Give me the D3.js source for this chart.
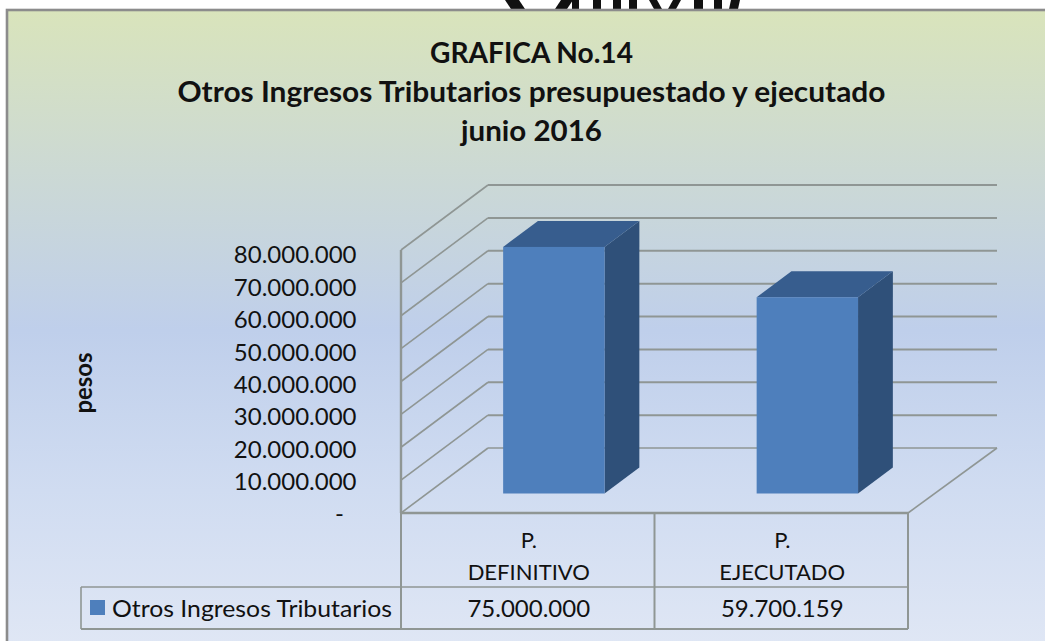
<!DOCTYPE html>
<html><head><meta charset="utf-8">
<script src="https://cdn.jsdelivr.net/npm/d3@7/dist/d3.min.js"></script>
<style>html,body{margin:0;padding:0;background:#fff}svg{display:block}text{font-family:Lato,"Open Sans",sans-serif;fill:#111}</style>
</head><body><svg id="c" width="1045" height="641"></svg>
<script>
const titleLines = ["GRAFICA No.14", "Otros Ingresos Tributarios presupuestado y ejecutado", "junio 2016"];
const categories = [["P.", "DEFINITIVO"], ["P.", "EJECUTADO"]];
const seriesName = "Otros Ingresos Tributarios";
const values = [75000000, 59700159];
const valueLabels = ["75.000.000", "59.700.159"];
const yTicks = [0, 10000000, 20000000, 30000000, 40000000, 50000000, 60000000, 70000000, 80000000];
const yTickLabels = ["-", "10.000.000", "20.000.000", "30.000.000", "40.000.000", "50.000.000", "60.000.000", "70.000.000", "80.000.000"];
const axisTitle = "pesos";

const W = 1045, H = 641;
const svg = d3.select("#c");
const defs = svg.append("defs");
const grad = defs.append("linearGradient").attr("id", "bg").attr("x1", 0).attr("y1", 0).attr("x2", 0).attr("y2", 1);
[[0, "#d9e4bb"], [0.25, "#ccd9d4"], [0.5, "#bfcfeb"], [0.75, "#d0dcf1"], [1, "#e0e7f5"]]
  .forEach(([o, c]) => grad.append("stop").attr("offset", o).attr("stop-color", c));

// fragment of the cropped page heading above the frame: [x, width, slant]
const cropped = [[511, 14, 6], [555, 12, -6], [572, 7, 0], [593, 8, 0], [613, 8, 0], [629, 8, 0], [654, 8, 5], [668, 8, -5], [694, 9, 0], [714, 8, 0], [729, 9, -2]];
svg.append("g").selectAll("path").data(cropped).join("path")
  .attr("d", d => d3.line()([[d[0] - d[2], 0], [d[0] + d[1] - d[2], 0], [d[0] + d[1], 9], [d[0], 9]]))
  .attr("fill", "#111");

// frame
svg.append("rect").attr("x", 7).attr("y", 10).attr("width", W).attr("height", H)
  .attr("fill", "url(#bg)").attr("stroke", "#8c8c8c").attr("stroke-width", 2.6);

// scales
const x0 = 401, x1 = 908, yBase = 513, yTop = 250;
const depthX = 87, depthY = 65;
const rightEnd = 997;
const y = d3.scaleLinear().domain([0, 80000000]).range([yBase, yTop]);
const yLabel = d3.scaleLinear().domain([0, 80000000]).range([514, 255]);
const x = d3.scaleBand().domain(d3.range(categories.length)).range([x0, x1]);
const barFrac = 0.4;
const dFront = 0.3, dBack = 0.7;
const gridCol = "#8f9694";

const g = svg.append("g");
const line = (a, b, c, d, w = 2) => g.append("line").attr("x1", a).attr("y1", b).attr("x2", c).attr("y2", d)
  .attr("stroke", gridCol).attr("stroke-width", w);

// gridlines: along back wall and side wall
yTicks.forEach(t => {
  const yy = y(t);
  line(x0, yy, x0 + depthX, yy - depthY, 1.6);
  line(x0 + depthX, yy - depthY, rightEnd, yy - depthY, t > 0 ? 2 : 1.6);
});
// floor
line(x1, yBase, rightEnd, yBase - depthY, 1.6);
line(x0, y(80000000), x0, yBase, 2.4);
line(x0, yBase, x1, yBase, 2.4);

// bars
values.forEach((v, i) => {
  const bw = x.bandwidth() * barFrac;
  const left = x(i) + (x.bandwidth() - bw) / 2 + depthX * dFront;
  const right = left + bw;
  const bot = y(0) - depthY * dFront;
  const top = y(v) - depthY * dFront;
  const dx = depthX * (dBack - dFront), dy = depthY * (dBack - dFront);
  g.append("path").attr("d", d3.line()([[right, bot], [right + dx, bot - dy], [right + dx, top - dy], [right, top]])).attr("fill", "#2f5079");
  g.append("path").attr("d", d3.line()([[left, top], [left + dx, top - dy], [right + dx, top - dy], [right, top]])).attr("fill", "#375d8e");
  g.append("rect").attr("x", left).attr("y", top).attr("width", bw).attr("height", bot - top).attr("fill", "#4e7fbc");
});

// y labels
yTicks.forEach((t, i) => {
  svg.append("text").attr("x", i === 0 ? 344 : 356.5).attr("text-anchor", "end")
    .attr("y", yLabel(t)).attr("dy", "0.35em").attr("font-size", 24).text(yTickLabels[i]);
});

// axis title
svg.append("text").attr("transform", "translate(92,383) rotate(-90)").attr("text-anchor", "middle")
  .attr("font-size", 24).attr("font-weight", 700).attr("textLength", 61).attr("lengthAdjust", "spacingAndGlyphs").text(axisTitle);

// title
const titleY = [63, 102, 141];
const titleW = [203, 708, 141];
titleLines.forEach((t, i) => svg.append("text").attr("x", 531.5).attr("y", titleY[i]).attr("text-anchor", "middle")
  .attr("font-size", 28).attr("font-weight", 700).attr("textLength", titleW[i]).attr("lengthAdjust", "spacingAndGlyphs").text(t));

// data table
const tTop = yBase, tMid = 587, tBot = 629, tLeft = 81;
line(x0, tTop, x0, tBot, 2);
line(x0 + x.bandwidth(), tTop, x0 + x.bandwidth(), tBot, 2);
line(x1, tTop, x1, tBot, 2);
line(tLeft, tMid, x1, tMid, 1.6);
line(tLeft, tBot, x1, tBot, 2);
line(tLeft, tMid, tLeft, tBot, 1.6);
categories.forEach((c, i) => {
  const cx = x(i) + x.bandwidth() / 2 + 1;
  c.forEach((s, k) => svg.append("text").attr("x", cx).attr("y", 548 + k * 32).attr("text-anchor", "middle").attr("font-size", 22).text(s));
  svg.append("text").attr("x", cx).attr("y", 617).attr("text-anchor", "middle").attr("font-size", 24).text(valueLabels[i]);
});
svg.append("rect").attr("x", 90).attr("y", 600).attr("width", 15).attr("height", 15).attr("fill", "#4e7fbc");
svg.append("text").attr("x", 112).attr("y", 617).attr("font-size", 24).attr("textLength", 280).attr("lengthAdjust", "spacingAndGlyphs").text(seriesName);
</script></body></html>
